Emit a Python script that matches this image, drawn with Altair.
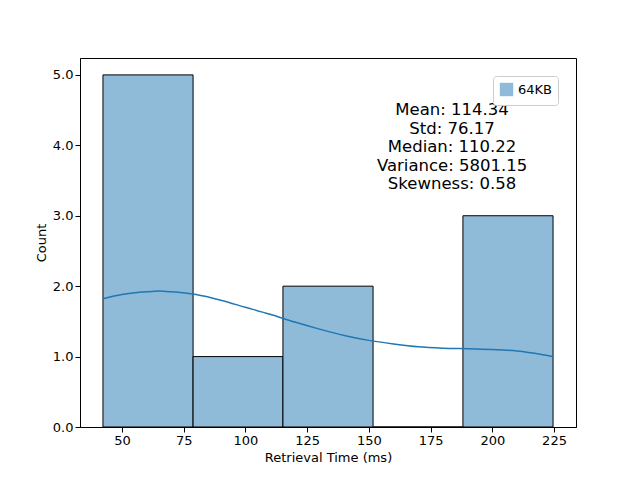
import altair as alt
import pandas as pd

# histogram bins
bin_start = [42.3, 78.8, 115.2, 151.7, 188.1]
bin_end = [78.8, 115.2, 151.7, 188.1, 224.6]
counts = [5, 1, 2, 0, 3]

# kde curve
kde_x = [42.3, 50, 60, 65, 70, 80, 90, 100, 110, 120, 130, 140, 150, 160, 170, 180, 190, 200, 210, 220, 224.6]
kde_y = [1.82, 1.88, 1.92, 1.93, 1.92, 1.88, 1.80, 1.70, 1.60, 1.49, 1.39, 1.30, 1.23, 1.18, 1.14, 1.12, 1.11, 1.10, 1.08, 1.03, 1.00]

stats = ["Mean: 114.34", "Std: 76.17", "Median: 110.22", "Variance: 5801.15", "Skewness: 0.58"]

FONT = "DejaVu Sans"

bars_df = pd.DataFrame({"start": bin_start, "end": bin_end, "count": counts, "label": "64KB"})
kde_df = pd.DataFrame({"x": kde_x, "y": kde_y})
txt_df = pd.DataFrame({"x": [183.7], "y": [4.5], "t": [stats]})

xs = alt.Scale(domain=[33, 233.9], nice=False, zero=False)
ys = alt.Scale(domain=[0, 5.24], nice=False)

bars = alt.Chart(bars_df).mark_rect(stroke="black", strokeWidth=1, fill="#8fbbd9").encode(
    x=alt.X("start:Q", scale=xs, title="Retrieval Time (ms)",
            axis=alt.Axis(values=[50, 75, 100, 125, 150, 175, 200, 225], grid=False)),
    x2="end:Q",
    y=alt.Y("count:Q", scale=ys, title="Count", axis=alt.Axis(values=[0, 1, 2, 3, 4, 5], grid=False)),
    y2=alt.datum(0),
    opacity=alt.Opacity("label:N", scale=alt.Scale(range=[1]),
                        legend=alt.Legend(title=None, orient="top-right", symbolType="square",
                                          symbolFillColor="#8fbbd9", symbolStrokeColor="black",
                                          symbolStrokeWidth=1, symbolSize=180, labelFontSize=13,
                                          labelFont=FONT, strokeColor="#cccccc", padding=6,
                                          cornerRadius=3, fillColor="white")),
)

kde = alt.Chart(kde_df).mark_line(color="#1f77b4", strokeWidth=1.5, interpolate="monotone").encode(
    x=alt.X("x:Q", scale=xs), y=alt.Y("y:Q", scale=ys)
)

txt = alt.Chart(txt_df).mark_text(fontSize=16.5, font=FONT, align="center", baseline="middle",
                                  lineHeight=18.5, color="black").encode(
    x=alt.X("x:Q", scale=xs), y=alt.Y("y:Q", scale=ys), text="t"
)

chart = (bars + kde + txt).properties(
    width=496, height=369, autosize="none",
    padding={"left": 72, "top": 50, "right": 56, "bottom": 53},
).configure_axis(
    labelFont=FONT, titleFont=FONT, labelFontSize=13, titleFontSize=13,
    labelColor="black", titleColor="black", domainColor="black", tickColor="black",
    titleFontWeight="normal",
).configure_view(stroke="black", strokeWidth=1)

chart.save("out.html", embed_options={"renderer": "svg", "actions": False})
